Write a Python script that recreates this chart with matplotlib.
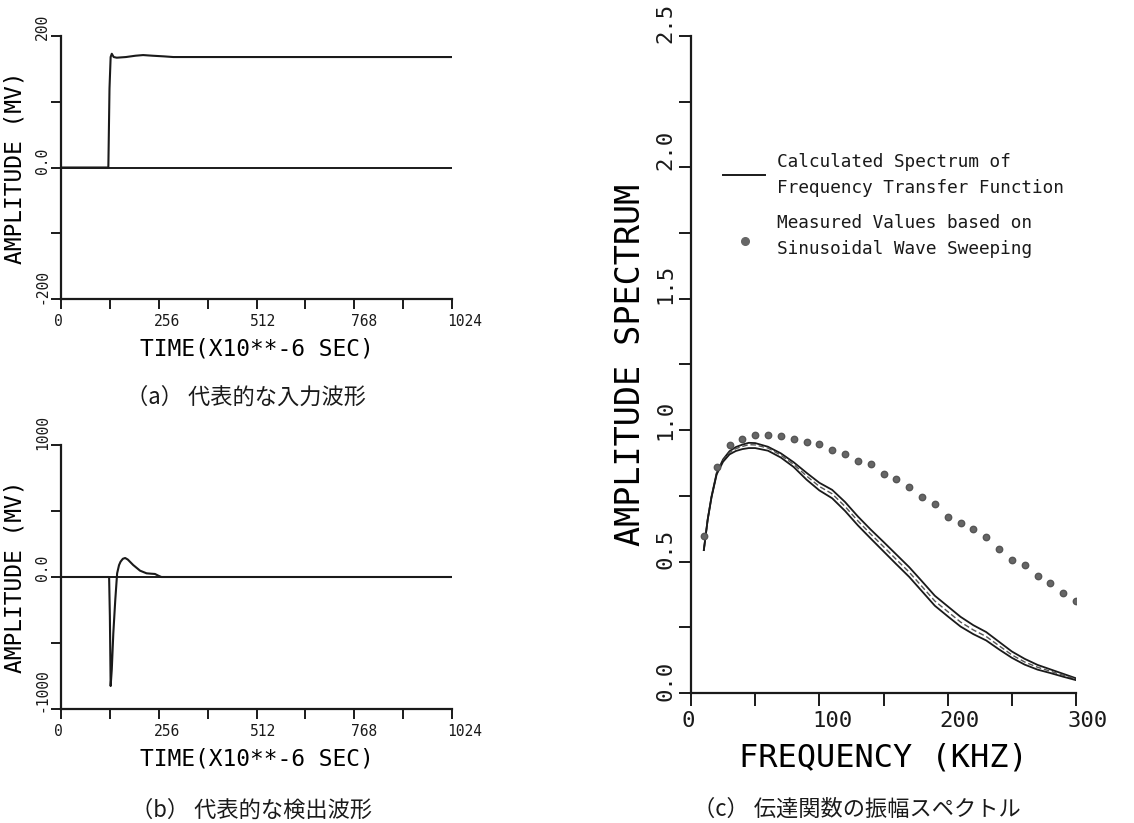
import matplotlib
matplotlib.use("Agg")
import matplotlib.pyplot as plt
from matplotlib.transforms import ScaledTranslation

plt.rcParams['font.family'] = ['DejaVu Sans Mono']

# ---- (a) representative input waveform ----
t_in = [0, 124, 127, 130, 133, 138, 146, 170, 195, 215, 240, 270, 294, 400, 600, 800, 1024]
amp_in = [0, 0, 120, 168, 173, 168, 167, 168, 170, 171, 170, 169, 168, 168, 168, 168, 168]

# ---- (b) representative detected waveform ----
t_det = [0, 126, 128, 130, 133, 137, 142, 147, 152, 156, 162, 168, 175, 189, 207, 224, 236, 246, 255, 263, 1024]
amp_det = [0, 0, -300, -826, -700, -427, -180, 28, 90, 116, 138, 144, 132, 91, 48, 28, 25, 23, 10, 0, 0]

# ---- (c) amplitude spectrum of the transfer function ----
freq_calc = [10, 13, 16, 20, 25, 30, 35, 40, 45, 50, 55, 60, 70, 80, 90, 100, 110, 120, 130,
             140, 150, 160, 170, 180, 190, 200, 210, 220, 230, 240, 250, 260, 270, 280, 290, 300]
spec_upper = [0.544, 0.66, 0.748, 0.837, 0.889, 0.920, 0.936, 0.945, 0.952, 0.951, 0.944, 0.937,
              0.912, 0.878, 0.838, 0.800, 0.773, 0.727, 0.672, 0.622, 0.575, 0.527, 0.479, 0.425,
              0.370, 0.330, 0.290, 0.258, 0.232, 0.195, 0.158, 0.130, 0.107, 0.090, 0.073, 0.056]
spec_mid = [0.544, 0.66, 0.747, 0.835, 0.885, 0.915, 0.930, 0.938, 0.945, 0.944, 0.938, 0.932,
            0.905, 0.870, 0.826, 0.786, 0.758, 0.710, 0.655, 0.605, 0.557, 0.508, 0.460, 0.405,
            0.350, 0.310, 0.270, 0.240, 0.215, 0.180, 0.145, 0.118, 0.098, 0.083, 0.068, 0.053]
spec_lower = [0.544, 0.66, 0.745, 0.832, 0.880, 0.908, 0.921, 0.928, 0.932, 0.932, 0.927, 0.922,
              0.896, 0.860, 0.812, 0.771, 0.741, 0.693, 0.638, 0.588, 0.539, 0.490, 0.442, 0.387,
              0.332, 0.292, 0.253, 0.224, 0.200, 0.166, 0.134, 0.108, 0.089, 0.076, 0.062, 0.049]

freq_meas = [10, 20, 30, 40, 50, 60, 70, 80, 90, 100, 110, 120, 130, 140, 150,
             160, 170, 180, 190, 200, 210, 220, 230, 240, 250, 260, 270, 280, 290, 300]
spec_meas = [0.597, 0.861, 0.943, 0.966, 0.982, 0.982, 0.977, 0.968, 0.956, 0.946, 0.924,
             0.911, 0.884, 0.871, 0.835, 0.815, 0.784, 0.746, 0.718, 0.668, 0.646, 0.623,
             0.595, 0.548, 0.505, 0.487, 0.446, 0.419, 0.382, 0.351]

time_ticks = [0, 256, 512, 768, 1024]
time_minor = [128, 384, 640, 896]
freq_ticks = [0, 100, 200, 300]
spec_ticks = [0.0, 0.5, 1.0, 1.5, 2.0, 2.5]

W, H = 1134, 823
fig = plt.figure(figsize=(W / 100, H / 100), dpi=100)
fig.patch.set_facecolor('white')

INK = '#1a1a1a'
CJK = ['Noto Sans CJK JP', 'DejaVu Sans']


def shift(label, dx=0, dy=0):
    """Nudge a text artist by (dx, dy) pixels."""
    label.set_transform(label.get_transform() +
                        ScaledTranslation(dx / 100, dy / 100, fig.dpi_scale_trans))


def frame(ax, tick_len=7):
    for s in ('top', 'right'):
        ax.spines[s].set_visible(False)
    for s in ('left', 'bottom'):
        ax.spines[s].set_linewidth(1.6)
        ax.spines[s].set_color(INK)
    ax.tick_params(which='both', direction='out', length=tick_len, width=1.4, colors=INK, pad=4)


def time_panel(rect, t, a, ylim, yticks, ylabels, ydy):
    ax = fig.add_axes(rect)
    frame(ax)
    ax.set_xlim(0, 1024)
    ax.set_ylim(*ylim)
    ax.set_xticks(time_ticks)
    ax.set_xticks(time_minor, minor=True)
    ax.set_xticklabels([str(v) for v in time_ticks], fontsize=10.5)
    ax.set_yticks(yticks)
    ax.set_yticklabels(ylabels, fontsize=10.5, rotation=90, va='center')
    ax.tick_params(axis='y', pad=1)
    for lab, dx in zip(ax.get_xticklabels(), [-3, 8, 7, 10, 13]):
        shift(lab, dx=dx)
    for lab, dy in zip(ax.get_yticklabels(), ydy):
        shift(lab, dy=dy)
    ax.plot([0, 1024], [0, 0], color=INK, lw=1.4)
    ax.plot(t, a, color=INK, lw=1.5)
    ax.set_xlabel('TIME(X10**-6 SEC)', fontsize=16.5, labelpad=6)
    ax.set_ylabel('AMPLITUDE (MV)', fontsize=16.5, labelpad=6)
    return ax


ax_a = time_panel([61 / W, 1 - 299 / H, 391 / W, 263 / H], t_in, amp_in,
                  (-200, 200), [-200, -100, 0, 100, 200], ['-200', '', '0.0', '', '200'],
                  [13, 0, 7, 0, 9])
ax_b = time_panel([61 / W, 1 - 709 / H, 391 / W, 264 / H], t_det, amp_det,
                  (-1000, 1000), [-1000, -500, 0, 500, 1000], ['-1000', '', '0.0', '', '1000'],
                  [19, 0, 9, 0, 13])

# ---- spectrum panel ----
ax_c = fig.add_axes([691 / W, 1 - 693 / H, 385 / W, 657 / H])
frame(ax_c, tick_len=9)
ax_c.set_xlim(0, 300)
ax_c.set_ylim(0, 2.5)
ax_c.set_xticks(freq_ticks)
ax_c.set_xticks([50, 150, 250], minor=True)
ax_c.set_xticklabels([str(v) for v in freq_ticks], fontsize=16)
ax_c.set_yticks(spec_ticks)
ax_c.set_yticks([0.25, 0.75, 1.25, 1.75, 2.25], minor=True)
ax_c.set_yticklabels(['%.1f' % v for v in spec_ticks], fontsize=16, rotation=90, va='center')
ax_c.tick_params(axis='y', pad=2)
for lab, dx in zip(ax_c.get_xticklabels(), [-3, 13, 12, 12]):
    shift(lab, dx=dx)
for lab, dy in zip(ax_c.get_yticklabels(), [12, 13, 10, 15, 17, 13]):
    shift(lab, dy=dy)
ax_c.set_xlabel('FREQUENCY (KHZ)', fontsize=23, labelpad=8)
ax_c.set_ylabel('AMPLITUDE SPECTRUM', fontsize=24, labelpad=6)

ax_c.plot(freq_calc, spec_upper, color=INK, lw=1.3)
ax_c.plot(freq_calc, spec_mid, color='#555555', lw=1.0, ls=(0, (4, 2)))
ax_c.plot(freq_calc, spec_lower, color=INK, lw=1.3)
ax_c.plot(freq_meas, spec_meas, ls='none', marker='o', ms=4.6, color='#666666', mec='#555555')

# legend drawn in data coordinates of the spectrum panel
ax_c.plot([25, 58], [1.97, 1.97], color=INK, lw=1.4)
ax_c.plot([42], [1.72], marker='o', ms=5.5, color='#666666', ls='none')
leg_kw = dict(fontsize=12.8, color=INK, ha='left', va='center', family='DejaVu Sans Mono')
ax_c.text(67, 2.02, 'Calculated Spectrum of', **leg_kw)
ax_c.text(67, 1.92, 'Frequency Transfer Function', **leg_kw)
ax_c.text(67, 1.79, 'Measured Values based on', **leg_kw)
ax_c.text(67, 1.69, 'Sinusoidal Wave Sweeping', **leg_kw)

# captions
cap_kw = dict(fontsize=16, ha='center', va='center', family=CJK, color=INK)
fig.text(246 / W, 1 - 397 / H, '（a） 代表的な入力波形', **cap_kw)
fig.text(252 / W, 1 - 810 / H, '（b） 代表的な検出波形', **cap_kw)
fig.text(857 / W, 1 - 809 / H, '（c） 伝達関数の振幅スペクトル', **cap_kw)

fig.savefig('out.png', dpi=100, facecolor='white')
